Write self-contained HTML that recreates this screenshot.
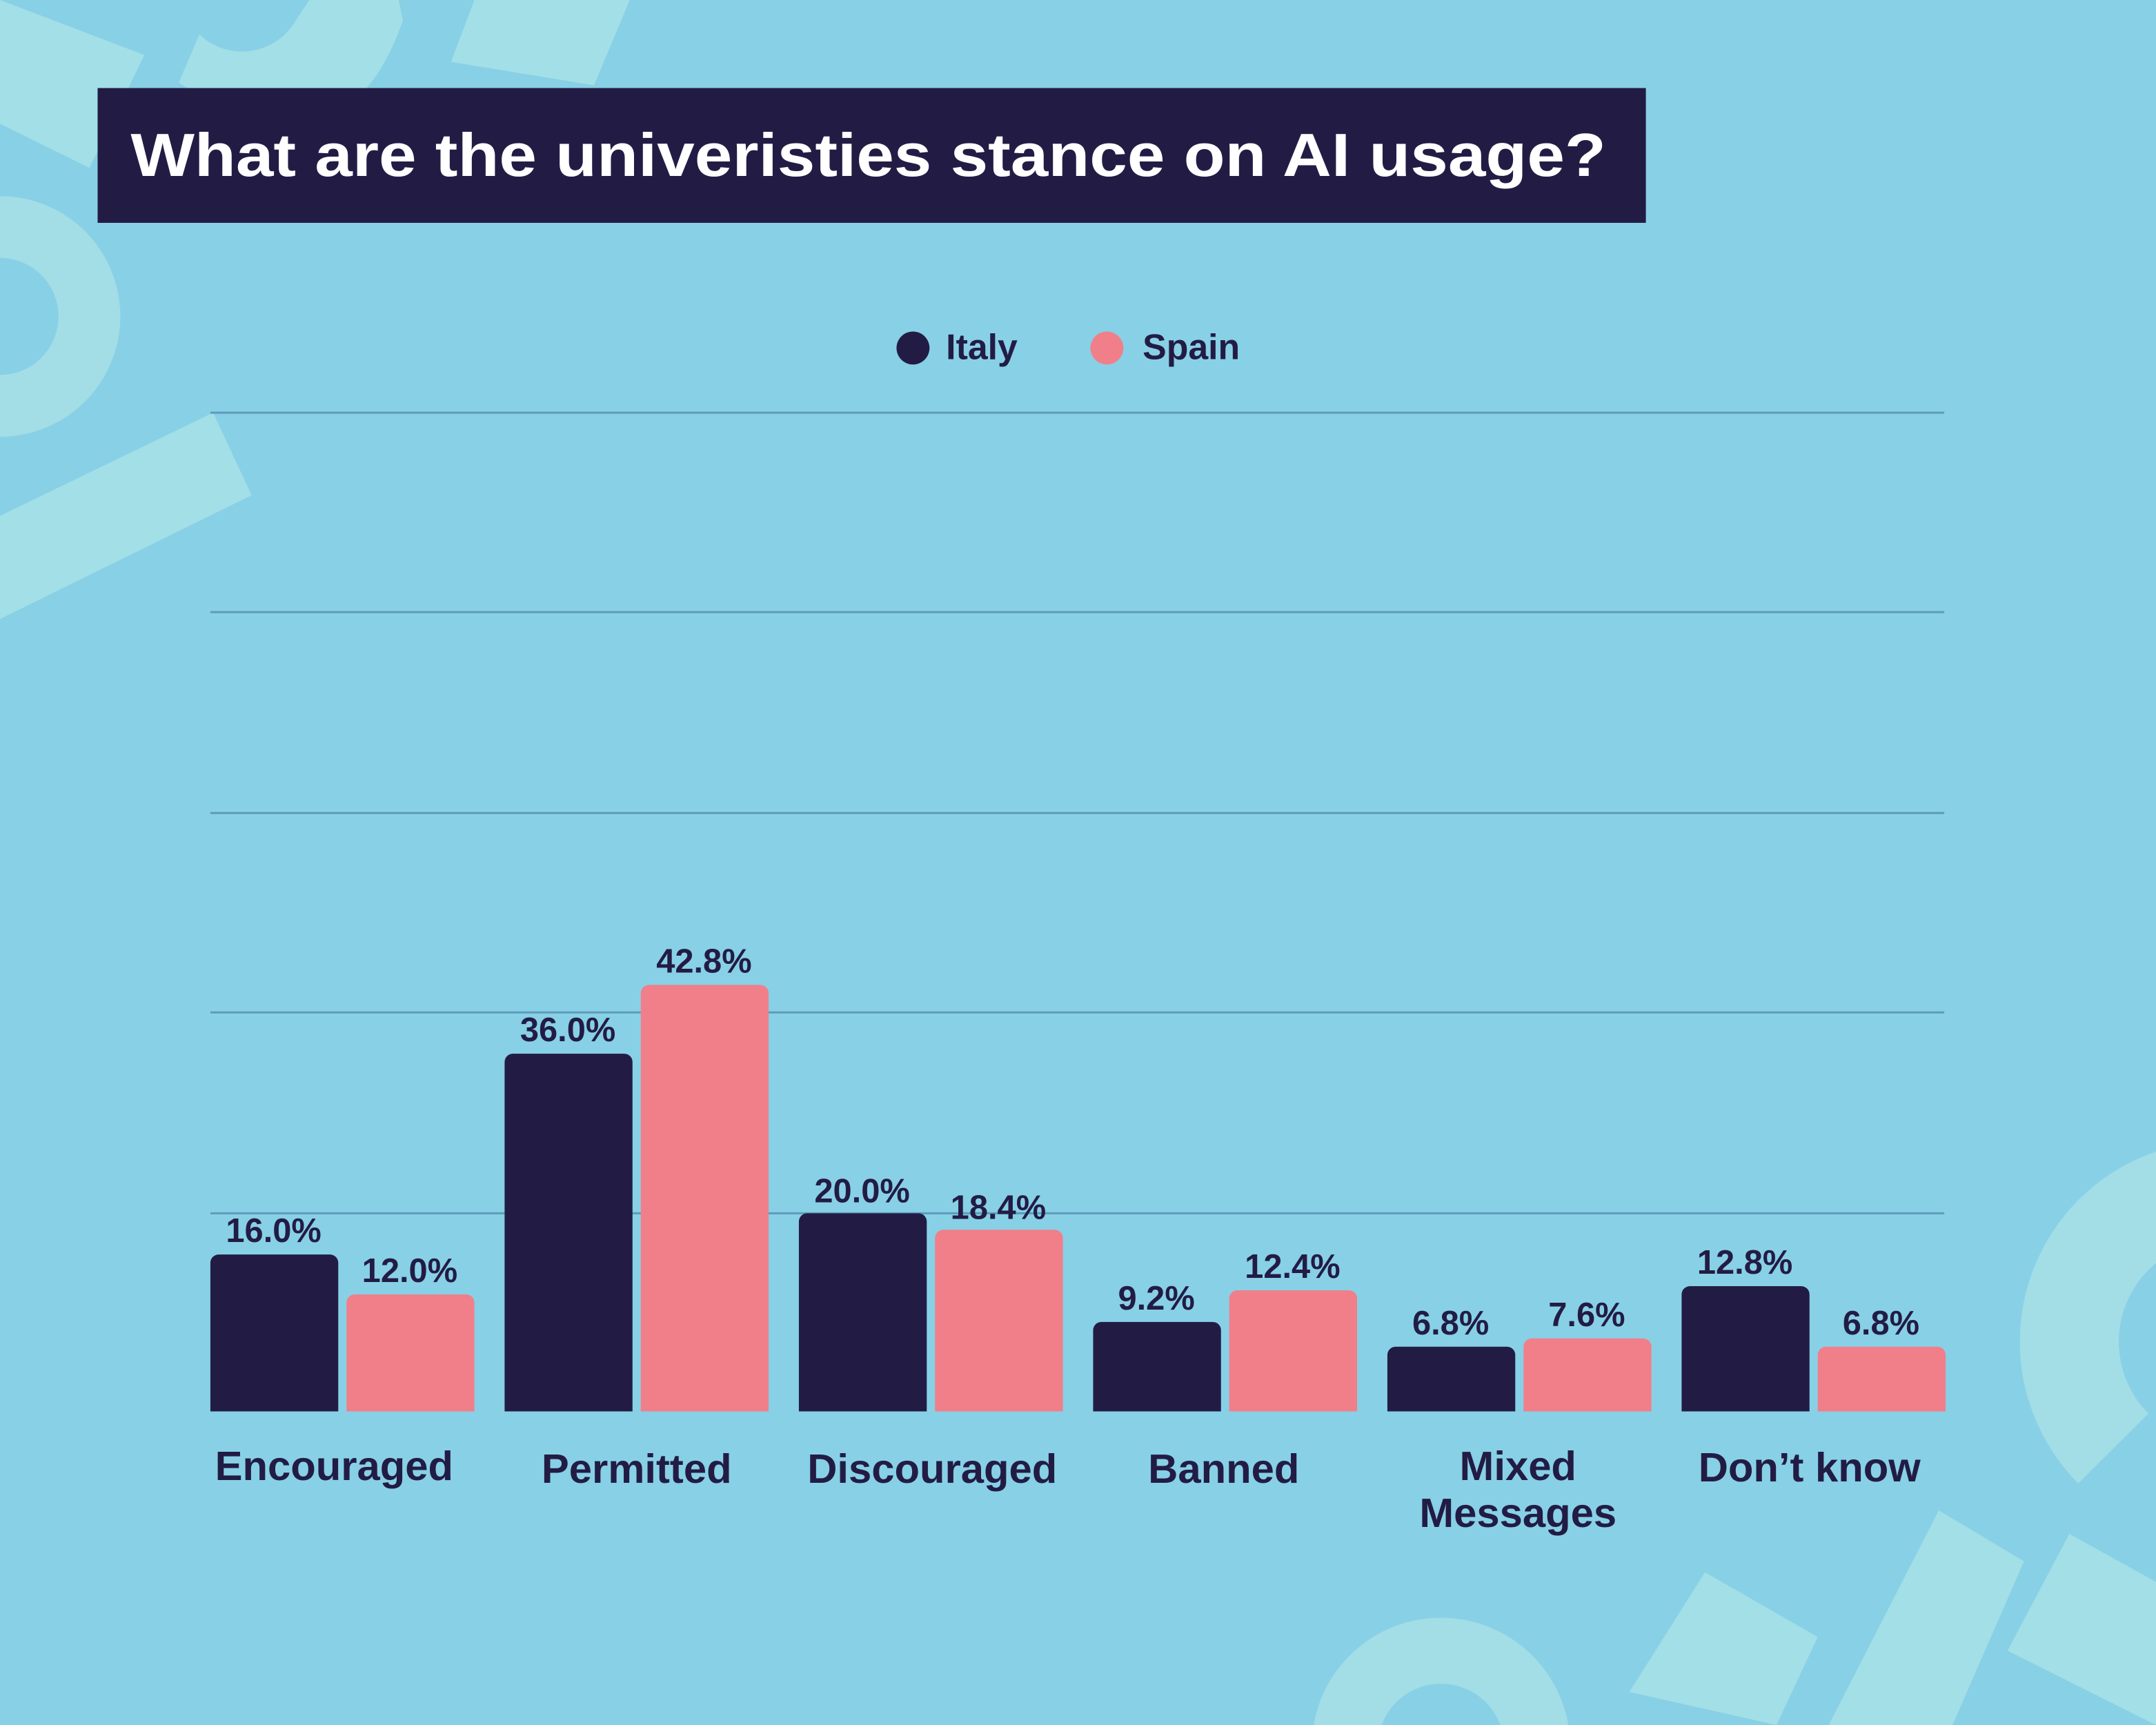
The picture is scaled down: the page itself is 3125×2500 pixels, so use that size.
<!DOCTYPE html>
<html><head><meta charset="utf-8"><style>html,body{margin:0;padding:0;background:#88D0E6;overflow:hidden;width:3125px;height:2500px}svg{display:block}</style></head>
<body>
<svg width="3125" height="2500" viewBox="0 0 1568 1254" preserveAspectRatio="none" xmlns="http://www.w3.org/2000/svg" font-family="'Liberation Sans',sans-serif" font-weight="bold">
<rect width="1568" height="1254" fill="#88D0E6"/>
<g fill="#A3DFE7">
<polygon points="0,0 105,40 65,122 0,90"/>
<path d="M145,25 A45,45 0 0 0 215,15 L225,0 L290,0 L293,15 Q270,80 230,85 Q185,95 130,60 Z"/>
<polygon points="345,0 458,0 432,62 328,45"/>
<polygon points="0,375 155,300 183,360 0,450"/>
<polygon points="1240,1143 1322,1190 1292,1254 1185,1230"/>
<polygon points="1410,1098 1472,1135 1420,1254 1330,1254"/>
<polygon points="1505,1115 1568,1150 1568,1254 1460,1200"/>
</g>
<g fill="none" stroke="#A3DDE6">
<circle cx="0" cy="230" r="65" stroke-width="45"/>
<path d="M1537,1053 A110,110 0 1 1 1710,920" stroke-width="72"/>
<circle cx="1048" cy="1270" r="70" stroke-width="48"/>
</g>
<rect x="71" y="64" width="1126" height="98" fill="#221C45"/>
<text x="95" y="128" font-size="44" fill="#fff" textLength="1073" lengthAdjust="spacingAndGlyphs">What are the univeristies stance on AI usage?</text>
<circle cx="664" cy="253" r="12" fill="#221C45"/>
<text x="688" y="261" font-size="26" fill="#221C45">Italy</text>
<circle cx="805" cy="253" r="12" fill="#F07F89"/>
<text x="831" y="261" font-size="26" fill="#221C45">Spain</text>
<g stroke="#5E9BBA" stroke-width="1.5">
<line x1="153" y1="300" x2="1414" y2="300"/>
<line x1="153" y1="445" x2="1414" y2="445"/>
<line x1="153" y1="591" x2="1414" y2="591"/>
<line x1="153" y1="736" x2="1414" y2="736"/>
<line x1="153" y1="882" x2="1414" y2="882"/>
</g>
<g font-size="24.5" fill="#221C45" text-anchor="middle">
<path fill="#221C45" d="M153,1026 V918 a6,6 0 0 1 6,-6 H240 a6,6 0 0 1 6,6 V1026Z"/>
<path fill="#F07F89" d="M252,1026 V947 a6,6 0 0 1 6,-6 H339 a6,6 0 0 1 6,6 V1026Z"/>
<path fill="#221C45" d="M367,1026 V772 a6,6 0 0 1 6,-6 H454 a6,6 0 0 1 6,6 V1026Z"/>
<path fill="#F07F89" d="M466,1026 V722 a6,6 0 0 1 6,-6 H553 a6,6 0 0 1 6,6 V1026Z"/>
<path fill="#221C45" d="M581,1026 V888 a6,6 0 0 1 6,-6 H668 a6,6 0 0 1 6,6 V1026Z"/>
<path fill="#F07F89" d="M680,1026 V900 a6,6 0 0 1 6,-6 H767 a6,6 0 0 1 6,6 V1026Z"/>
<path fill="#221C45" d="M795,1026 V967 a6,6 0 0 1 6,-6 H882 a6,6 0 0 1 6,6 V1026Z"/>
<path fill="#F07F89" d="M894,1026 V944 a6,6 0 0 1 6,-6 H981 a6,6 0 0 1 6,6 V1026Z"/>
<path fill="#221C45" d="M1009,1026 V985 a6,6 0 0 1 6,-6 H1096 a6,6 0 0 1 6,6 V1026Z"/>
<path fill="#F07F89" d="M1108,1026 V979 a6,6 0 0 1 6,-6 H1195 a6,6 0 0 1 6,6 V1026Z"/>
<path fill="#221C45" d="M1223,1026 V941 a6,6 0 0 1 6,-6 H1310 a6,6 0 0 1 6,6 V1026Z"/>
<path fill="#F07F89" d="M1322,1026 V985 a6,6 0 0 1 6,-6 H1409 a6,6 0 0 1 6,6 V1026Z"/>
<text x="199" y="903">16.0%</text>
<text x="298" y="932">12.0%</text>
<text x="413" y="757">36.0%</text>
<text x="512" y="707">42.8%</text>
<text x="627" y="874">20.0%</text>
<text x="726" y="886">18.4%</text>
<text x="841" y="952">9.2%</text>
<text x="940" y="929">12.4%</text>
<text x="1055" y="970">6.8%</text>
<text x="1154" y="964">7.6%</text>
<text x="1269" y="926">12.8%</text>
<text x="1368" y="970">6.8%</text>
</g>
<g font-size="30" fill="#221C45" text-anchor="middle">
<text x="243" y="1076">Encouraged</text>
<text x="463" y="1078">Permitted</text>
<text x="678" y="1078">Discouraged</text>
<text x="890" y="1078">Banned</text>
<text x="1104" y="1076">Mixed</text>
<text x="1104" y="1110">Messages</text>
<text x="1316" y="1077">Don’t know</text>
</g>
</svg>
</body></html>
